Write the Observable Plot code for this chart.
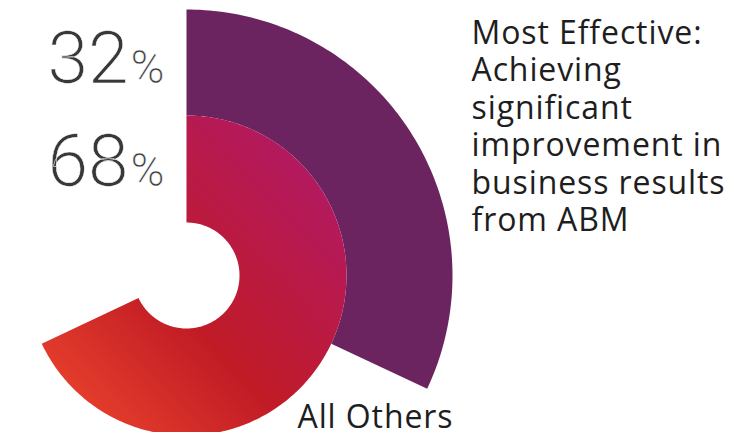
<!DOCTYPE html>
<html>
<head>
<meta charset="utf-8">
<script src="https://cdn.jsdelivr.net/npm/d3@7"></script>
<script src="https://cdn.jsdelivr.net/npm/@observablehq/plot@0.6"></script>
<style>
  html, body { margin: 0; padding: 0; background: #fff; overflow: hidden; }
  #chart svg { display: block; }
</style>
</head>
<body>
<div id="chart"></div>
<script>
// ---- data ----
const categories = ["Most Effective", "All Others"];
const shares = [32, 68];               // percent
const shareLabels = ["32", "68"];
const percentSign = "%";
const descriptions = [
  "Most Effective:\nAchieving\nsignificant\nimprovement in\nbusiness results\nfrom ABM",
  "All Others"
];

// ---- layout (pixels) ----
const W = 756, H = 432;
const CX = 186, CY = 275;     // ring centre
const R = 266;                // outer radius of outer ring
const ringRadii = [[160 / R, 1], [53 / R, 160 / R]]; // [inner, outer] per category

function arcPoints(name, frac, r0, r1) {
  const n = Math.max(2, Math.ceil(frac * 360));
  const pts = [];
  for (let i = 0; i <= n; i++) {
    const a = frac * 2 * Math.PI * i / n;
    pts.push({name, x: r1 * Math.sin(a), y: r1 * Math.cos(a)});
  }
  for (let i = n; i >= 0; i--) {
    const a = frac * 2 * Math.PI * i / n;
    pts.push({name, x: r0 * Math.sin(a), y: r0 * Math.cos(a)});
  }
  return pts;
}

const arcs = categories.map((c, i) => arcPoints(c, shares[i] / 100, ringRadii[i][0], ringRadii[i][1]));

const numFont = "Roboto, Lato, sans-serif";
const txtFont = "'Open Sans', 'Noto Sans', sans-serif";
const thin = {stroke: "#fff", strokeWidth: 0.5, paintOrder: "normal"};

function label(text, opts) {
  return Plot.text([text], {text: d => d, frameAnchor: "top-left", ...opts});
}

const chart = Plot.plot({
  width: W,
  height: H,
  margin: 0,
  x: {domain: [-CX / R, (W - CX) / R], axis: null},
  y: {domain: [-(H - CY) / R, CY / R], axis: null},
  marks: [
    Plot.line(arcs[0], {x: "x", y: "y", fill: "#6c2461", stroke: "none", curve: "linear"}),
    Plot.line(arcs[1], {x: "x", y: "y", fill: "url(#allOthersGrad)", stroke: "none", curve: "linear"}),
    // percentages
    label(shareLabels[0], {dx: 128, dy: 82, lineAnchor: "bottom", textAnchor: "end", fontSize: 73, fontWeight: 300, fontFamily: numFont, fill: "#383838", ...thin}),
    label(percentSign, {dx: 130, dy: 82, lineAnchor: "bottom", textAnchor: "start", fontSize: 46, fontWeight: 300, fontFamily: numFont, fill: "#383838", ...thin}),
    label(shareLabels[1], {dx: 128, dy: 185, lineAnchor: "bottom", textAnchor: "end", fontSize: 73, fontWeight: 300, fontFamily: numFont, fill: "#383838", ...thin}),
    label(percentSign, {dx: 130, dy: 185, lineAnchor: "bottom", textAnchor: "start", fontSize: 46, fontWeight: 300, fontFamily: numFont, fill: "#383838", ...thin}),
    // descriptions
    label(descriptions[0], {dx: 471, dy: 17, lineAnchor: "top", textAnchor: "start", fontSize: 32, lineHeight: 1.169, fontFamily: txtFont, fill: "#1e1e1e"}),
    label(descriptions[1], {dx: 297, dy: 427.5, lineAnchor: "bottom", textAnchor: "start", fontSize: 32, fontFamily: txtFont, fill: "#1e1e1e"})
  ]
});

// slight tracking for the description texts
d3.select(chart).selectAll("g").filter(function () {
  const f = this.getAttribute("font-family");
  return f && f.includes("Open Sans");
}).attr("letter-spacing", "0.9px");

const ns = "http://www.w3.org/2000/svg";
const defs = document.createElementNS(ns, "defs");
defs.innerHTML = `
  <linearGradient id="allOthersGrad" x1="1" y1="0" x2="0" y2="1">
    <stop offset="0.15" stop-color="#b3195f"/>
    <stop offset="0.58" stop-color="#c11b26"/>
    <stop offset="0.92" stop-color="#e8412c"/>
  </linearGradient>`;
chart.prepend(defs);
document.getElementById("chart").appendChild(chart);
</script>
</body>
</html>
